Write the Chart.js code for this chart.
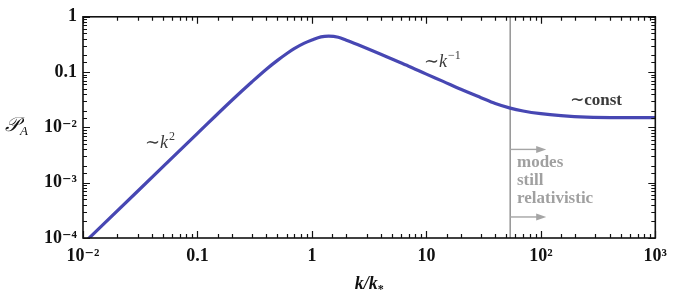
<!DOCTYPE html>
<html>
<head>
<meta charset="utf-8">
<script src="https://cdn.jsdelivr.net/npm/chart.js@4.4.0/dist/chart.umd.min.js"></script>
<style>
  html, body { margin: 0; padding: 0; background: #fff; }
</style>
</head>
<body>
<canvas id="js--chart--1" width="675" height="305"></canvas>
<script>
// values
const kValues = [0.01, 0.03, 0.1, 0.2, 0.3, 0.4, 0.5, 0.6, 0.7, 0.85, 1, 1.2, 1.4, 1.7, 2, 2.5, 3, 4, 5, 7, 10, 14, 20, 30, 40, 54, 70, 100, 150, 250, 500, 1000];
const pValues = [7.8e-5, 7.0e-4, 7.8e-3, 0.031, 0.067, 0.113, 0.163, 0.215, 0.265, 0.33, 0.38, 0.434, 0.448, 0.428, 0.378, 0.315, 0.27, 0.21, 0.172, 0.128, 0.092, 0.068, 0.049, 0.0345, 0.027, 0.0223, 0.0198, 0.0177, 0.0163, 0.0153, 0.015, 0.015];

const xTickLabels = { "-2": "10⁻²", "-1": "0.1", "0": "1", "1": "10", "2": "10²", "3": "10³" };
const yTickLabels = { "0": "1", "-1": "0.1", "-2": "10⁻²", "-3": "10⁻³", "-4": "10⁻⁴" };

const relativisticK = 54;
const arrowLevels = [0.004, 2.4e-4];

const serif = "'Liberation Serif', 'DejaVu Serif', serif";

function decade(v) {
    const l = Math.log10(v);
    return Math.abs(l - Math.round(l)) < 1e-6 ? String(Math.round(l)) : null;
}

const frame = {
    id: 'frame',
    beforeDatasetsDraw(chart) {
        const ctx = chart.ctx, a = chart.chartArea;
        const x = chart.scales.x, y = chart.scales.y;
        const lx = x.getPixelForValue(relativisticK);
        ctx.save();
        ctx.strokeStyle = '#9a9a9a';
        ctx.lineWidth = 1.6;
        ctx.beginPath();
        ctx.moveTo(lx, a.top);
        ctx.lineTo(lx, a.bottom);
        ctx.stroke();
        // arrows
        ctx.fillStyle = '#a5a5a5';
        ctx.strokeStyle = '#a5a5a5';
        ctx.lineWidth = 1.4;
        arrowLevels.forEach(p => {
            const py = y.getPixelForValue(p);
            ctx.beginPath();
            ctx.moveTo(lx, py);
            ctx.lineTo(lx + 28, py);
            ctx.stroke();
            ctx.beginPath();
            ctx.moveTo(lx + 36, py);
            ctx.lineTo(lx + 26, py - 3.5);
            ctx.lineTo(lx + 26, py + 3.5);
            ctx.closePath();
            ctx.fill();
        });
        ctx.restore();
    },
    afterDraw(chart) {
        const ctx = chart.ctx, a = chart.chartArea;
        const x = chart.scales.x, y = chart.scales.y;
        ctx.save();
        ctx.strokeStyle = '#111';
        ctx.lineWidth = 1.2;
        ctx.beginPath();
        x.ticks.forEach(t => {
            const px = Math.round(x.getPixelForValue(t.value)) + 0.5;
            const len = decade(t.value) ? 7 : 4;
            ctx.moveTo(px, a.bottom); ctx.lineTo(px, a.bottom - len);
            ctx.moveTo(px, a.top); ctx.lineTo(px, a.top + len);
        });
        y.ticks.forEach(t => {
            const py = Math.round(y.getPixelForValue(t.value)) + 0.5;
            const len = decade(t.value) ? 7 : 4;
            ctx.moveTo(a.left, py); ctx.lineTo(a.left + len, py);
            ctx.moveTo(a.right, py); ctx.lineTo(a.right - len, py);
        });
        ctx.stroke();
        ctx.lineWidth = 1.6;
        ctx.strokeRect(a.left, a.top, a.right - a.left, a.bottom - a.top);

        // axis titles
        ctx.fillStyle = '#111';
        ctx.textBaseline = 'alphabetic';
        ctx.font = "italic 20px " + serif;
        ctx.textAlign = 'left';
        ctx.fillText('𝒫', 5, 131);
        ctx.font = "italic 13px " + serif;
        ctx.fillText('A', 20, 135);

        const cx = (a.left + a.right) / 2;
        ctx.font = "italic bold 18px " + serif;
        const w = ctx.measureText('k/k').width;
        ctx.fillText('k/k', cx - w / 2 - 3, 289);
        ctx.font = "bold 12px " + serif;
        ctx.fillText('*', cx + w / 2 - 3, 293);

        // curve notes
        ctx.fillStyle = '#3a3a3a';
        function note(px, py, base, sup) {
            ctx.font = "18px " + serif;
            ctx.fillText('∼', px, py);
            let cur = px + ctx.measureText('∼').width;
            ctx.font = "italic 18px " + serif;
            ctx.fillText(base, cur, py);
            cur += ctx.measureText(base).width + 1;
            ctx.font = "12px " + serif;
            ctx.fillText(sup, cur, py - 8);
        }
        note(145, 148, 'k', '2');
        note(424, 67, 'k', '−1');
        ctx.font = "bold 17px " + serif;
        ctx.fillText('∼const', 570, 105);

        ctx.fillStyle = '#a0a0a0';
        ctx.font = "bold 17px " + serif;
        ctx.fillText('modes', 517, 167);
        ctx.fillText('still', 517, 185);
        ctx.fillText('relativistic', 517, 203);
        ctx.restore();
    }
};

const tickFont = { family: serif, size: 18, weight: 'bold' };

new Chart(document.getElementById('js--chart--1'), {
    type: 'line',
    data: {
        datasets: [{
            data: kValues.map((k, i) => ({ x: k, y: pValues[i] })),
            borderColor: '#4747b3',
            borderWidth: 3.2,
            pointRadius: 0,
            cubicInterpolationMode: 'monotone',
            fill: false
        }]
    },
    options: {
        responsive: false,
        animation: false,
        devicePixelRatio: 1,
        layout: { autoPadding: false, padding: { top: 8, right: 16, left: 0, bottom: 0 } },
        plugins: { legend: { display: false }, tooltip: { enabled: false } },
        scales: {
            x: {
                type: 'logarithmic',
                min: 0.01,
                max: 1000,
                grid: { display: false, drawTicks: false },
                border: { display: false },
                ticks: {
                    autoSkip: false,
                    maxRotation: 0,
                    padding: 8,
                    color: '#111',
                    font: tickFont,
                    callback: v => { const d = decade(v); return d ? xTickLabels[d] : ''; }
                },
                afterFit: s => { s.height = 67; }
            },
            y: {
                type: 'logarithmic',
                min: 1e-4,
                max: 1,
                grid: { display: false, drawTicks: false },
                border: { display: false },
                ticks: {
                    autoSkip: false,
                    padding: 6,
                    color: '#111',
                    font: tickFont,
                    callback: v => { const d = decade(v); return d ? yTickLabels[d] : ''; }
                },
                afterFit: s => { s.width = 83; }
            }
        }
    },
    plugins: [frame]
});
</script>
</body>
</html>
